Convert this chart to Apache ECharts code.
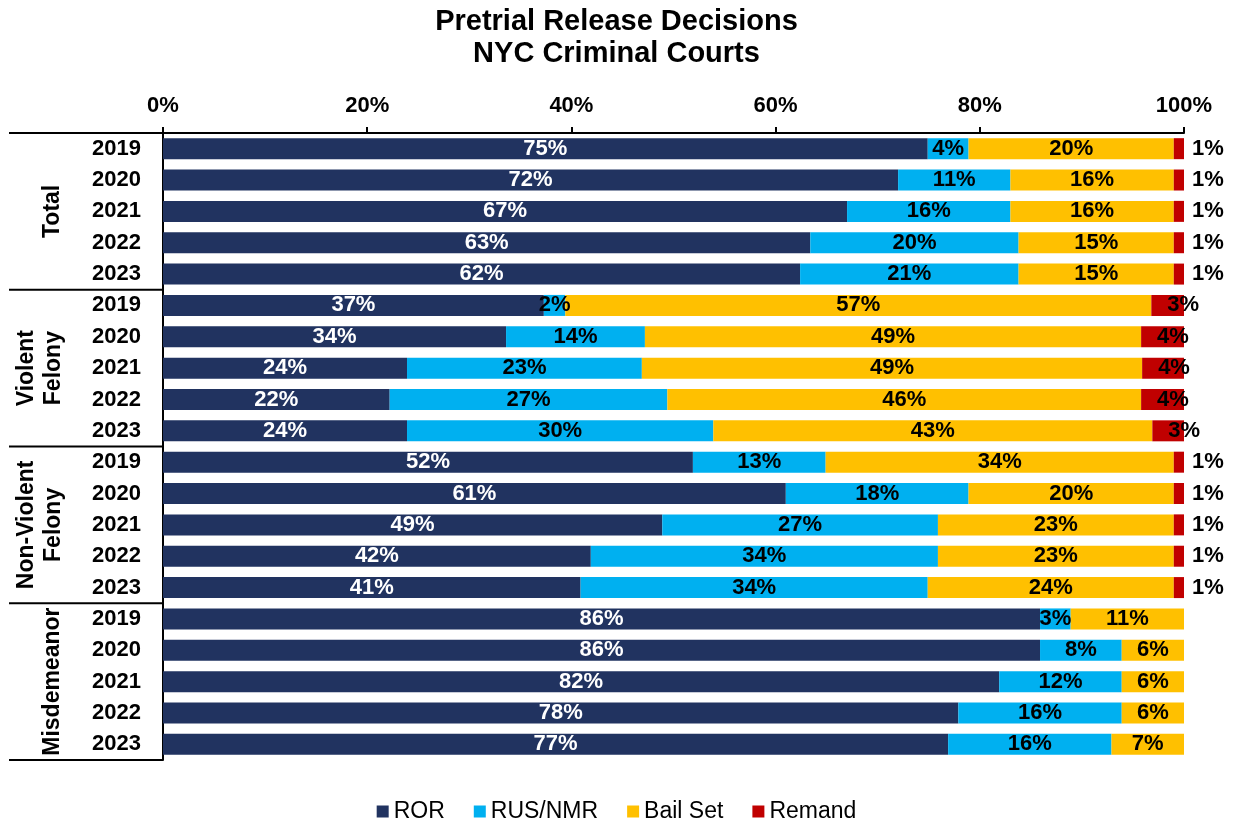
<!DOCTYPE html>
<html>
<head>
<meta charset="utf-8">
<title>Pretrial Release Decisions</title>
<script src="https://cdn.jsdelivr.net/npm/echarts@6/dist/echarts.min.js"></script>
<style>
  html, body { margin: 0; padding: 0; background: #fff; }
  #chart { width: 1233px; height: 822px; }
</style>
</head>
<body>
<div id="chart"></div>
<script>
  // groups of five years each, top to bottom
  const groups = ['Total', 'Violent\nFelony', 'Non-Violent\nFelony', 'Misdemeanor']
  const years = ['2019', '2020', '2021', '2022', '2023']

  // shares in percent, in group order (Total, Violent Felony, Non-Violent Felony, Misdemeanor)
  const ror = [74.9, 72.0, 67.0, 63.4, 62.4,
    37.3, 33.6, 23.9, 22.2, 23.9,
    51.9, 61.0, 48.9, 41.9, 40.9,
    85.9, 85.9, 81.9, 77.9, 76.9]
  const rus = [4.0, 11.0, 16.0, 20.4, 21.4,
    2.1, 13.6, 23.0, 27.2, 30.0,
    13.0, 17.9, 27.0, 34.0, 34.0,
    3.0, 8.0, 12.0, 16.0, 16.0]
  const bail = [20.1, 16.0, 16.0, 15.2, 15.2,
    57.4, 48.6, 49.0, 46.4, 43.0,
    34.1, 20.1, 23.1, 23.1, 24.1,
    11.1, 6.1, 6.1, 6.1, 7.1]
  const remand = [1.0, 1.0, 1.0, 1.0, 1.0,
    3.2, 4.2, 4.1, 4.2, 3.1,
    1.0, 1.0, 1.0, 1.0, 1.0,
    0, 0, 0, 0, 0]

  const xTicks = [0, 20, 40, 60, 80, 100]

  const FONT = 'Liberation Sans'
  const cats = []
  groups.forEach((g, gi) => {
    years.forEach(y => { cats.push(gi + '|' + y) })
  })

  const pct = p => (p.value > 0 ? Math.round(p.value) + '%' : '')

  const chart = echarts.init(document.getElementById('chart'))

  function barSeries(name, data, color, labelColor) {
    return {
      name: name,
      type: 'bar',
      stack: 'all',
      barWidth: 21,
      data: data,
      itemStyle: { color: color },
      label: {
        show: true,
        position: 'inside',
        formatter: pct,
        color: labelColor,
        fontFamily: FONT,
        fontWeight: 'bold',
        fontSize: 22,
        textBorderWidth: 0
      },
      animation: false
    }
  }

  // small remand shares sit outside the bar end, bigger ones start inside the red piece
  const remandData = remand.map(v => ({
    value: v,
    label: v < 2
      ? { position: 'right', distance: 8 }
      : { position: 'insideLeft', distance: 16 }
  }))

  chart.setOption({
    backgroundColor: '#fff',
    title: {
      text: 'Pretrial Release Decisions\nNYC Criminal Courts',
      left: 'center',
      top: 1,
      textStyle: {
        fontFamily: FONT,
        fontWeight: 'bold',
        fontSize: 29,
        lineHeight: 32,
        color: '#000'
      }
    },
    legend: {
      data: ['ROR', 'RUS/NMR', 'Bail Set', 'Remand'],
      left: 'center',
      top: 795,
      icon: 'rect',
      itemWidth: 12,
      itemHeight: 12,
      itemGap: 29,
      textStyle: { fontFamily: FONT, fontSize: 23, color: '#000' }
    },
    grid: { left: 163, right: 49, top: 133, bottom: 62 },
    xAxis: {
      type: 'value',
      position: 'top',
      min: xTicks[0],
      max: xTicks[xTicks.length - 1],
      interval: 20,
      axisLine: { show: true, lineStyle: { color: '#000', width: 2 } },
      axisTick: { show: true, length: 6, lineStyle: { color: '#000', width: 2 } },
      splitLine: { show: false },
      axisLabel: {
        formatter: '{value}%',
        margin: 16,
        color: '#000',
        fontFamily: FONT,
        fontWeight: 'bold',
        fontSize: 22
      }
    },
    yAxis: {
      type: 'category',
      inverse: true,
      data: cats,
      axisLine: { show: true, lineStyle: { color: '#000', width: 2 } },
      axisTick: { show: false },
      axisLabel: {
        formatter: v => v.split('|')[1],
        margin: 22,
        color: '#000',
        fontFamily: FONT,
        fontWeight: 'bold',
        fontSize: 22
      }
    },
    series: [
      barSeries('ROR', ror, '#213360', '#fff'),
      barSeries('RUS/NMR', rus, '#00B0F0', '#000'),
      barSeries('Bail Set', bail, '#FFC000', '#000'),
      barSeries('Remand', remandData, '#C00000', '#000')
    ]
  })

  // group separators and rotated group names, placed from the axis scale
  const yOf = i => chart.convertToPixel({ yAxisIndex: 0 }, cats[i])
  const band = yOf(1) - yOf(0)
  const x0 = chart.convertToPixel({ xAxisIndex: 0 }, 0)
  const lineStyle = { stroke: '#000', lineWidth: 2 }
  const graphics = []
  for (let g = 0; g <= groups.length; g++) {
    const y = g < groups.length ? yOf(g * 5) - band / 2 : yOf(cats.length - 1) + band / 2
    graphics.push({
      type: 'line',
      shape: { x1: 9, y1: y, x2: x0, y2: y },
      style: lineStyle,
      silent: true
    })
  }
  groups.forEach((g, gi) => {
    const twoLines = g.indexOf('\n') >= 0
    graphics.push({
      type: 'text',
      x: twoLines ? 40.5 : 53,
      y: yOf(gi * 5 + 2),
      rotation: Math.PI / 2,
      style: {
        text: g,
        fontFamily: FONT,
        fontWeight: 'bold',
        fontSize: 23,
        lineHeight: 27,
        fill: '#000',
        align: 'center',
        verticalAlign: 'middle'
      },
      silent: true
    })
  })
  chart.setOption({ graphic: graphics })
</script>
</body>
</html>
